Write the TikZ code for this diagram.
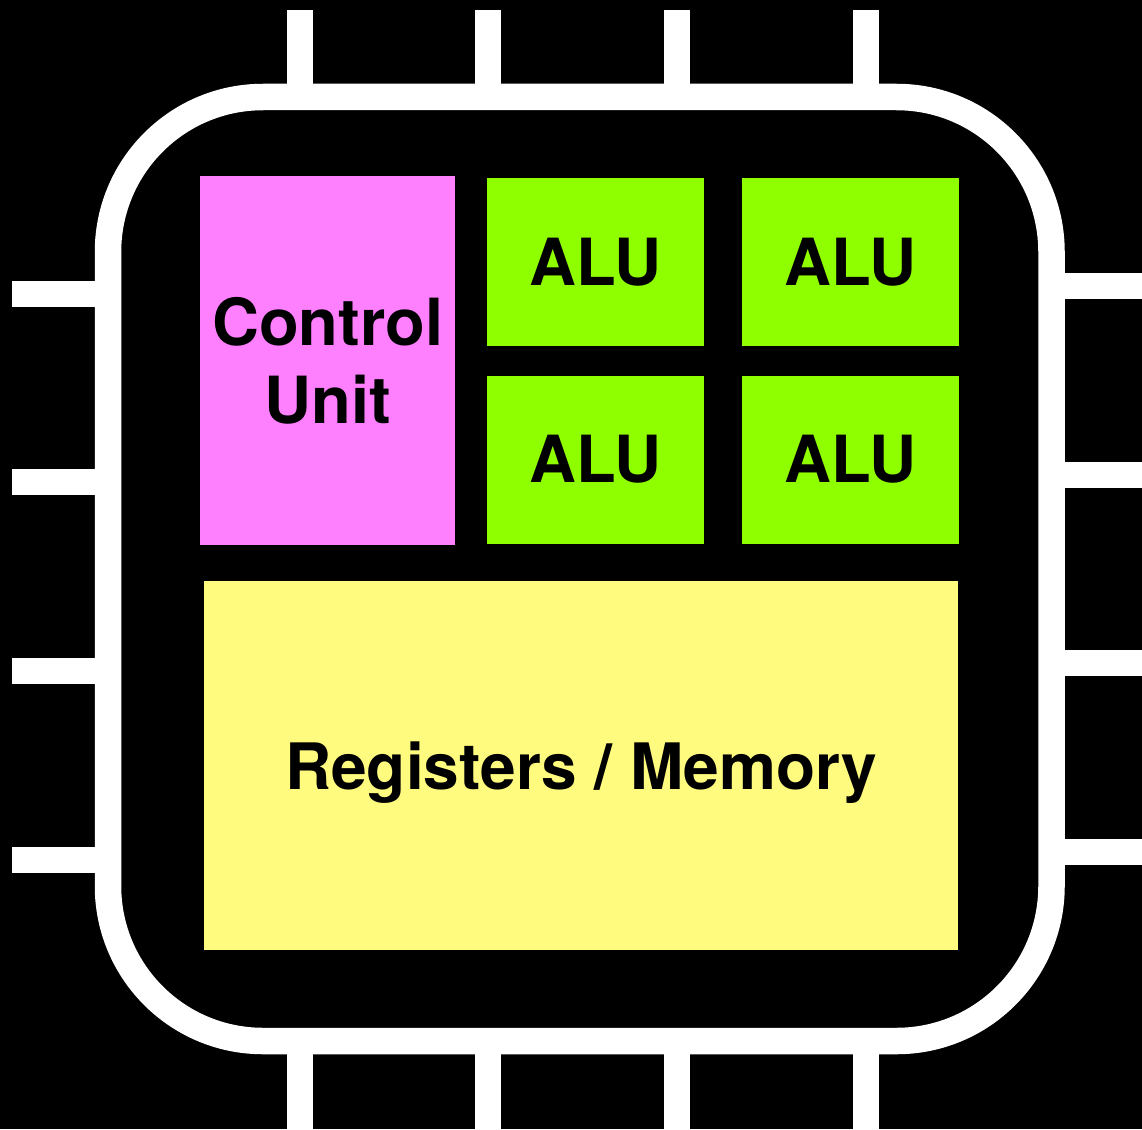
\documentclass[tikz,border=0pt]{standalone}
\usepackage{fontspec}
\setmainfont{TeX Gyre Heros}
\usetikzlibrary{positioning}

\definecolor{cupink}{RGB}{255,128,255}
\definecolor{alugreen}{RGB}{143,255,0}
\definecolor{regyellow}{RGB}{255,251,127}

\begin{document}
\begin{tikzpicture}[
    x=1pt, y=1pt,
    blk/.style={inner sep=0pt, anchor=north west, align=center,
      font=\fontsize{65}{78}\selectfont\bfseries},
    cu/.style={blk, fill=cupink, minimum width=255pt, minimum height=369pt},
    alu/.style={blk, fill=alugreen, minimum width=217pt, minimum height=168pt},
    regs/.style={blk, fill=regyellow, minimum width=754pt, minimum height=369pt,
      font=\fontsize{64}{77}\selectfont\bfseries, text depth=0pt},
    pin/.style={white, line width=26pt},
    chip/.style={draw=white, line width=26.5pt, rounded corners=155pt}
  ]
    \fill[black] (0,0) rectangle (1142,-1129);
    \useasboundingbox (0,0) rectangle (1142,-1129);
    % pins first, the package edge covers their inner ends
    \foreach \px in {300,488,677,866} {
      \draw[pin] (\px,-10) -- (\px,-97);
      \draw[pin] (\px,-1041) -- (\px,-1129);
    }
    \foreach \py in {294,482,671,860}
      \draw[pin] (12,-\py) -- (108,-\py);
    \foreach \py in {286,475,663,852}
      \draw[pin] (1051,-\py) -- (1142,-\py);
    \draw[chip] (108,-97) rectangle (1051.5,-1041);

    \node[cu] (ctrl) at (200,-176) {Control\\Unit};
    \node[alu] (alu1) at (487,-178) {ALU};
    \node[alu, right=37pt of alu1] (alu2) {ALU};
    \node[alu, below=29pt of alu1] (alu3) {ALU};
    \node[alu, below=29pt of alu2] (alu4) {ALU};
    \node[regs] (mem) at (204,-581) {Registers / Memory};
  \end{tikzpicture}
\end{document}
